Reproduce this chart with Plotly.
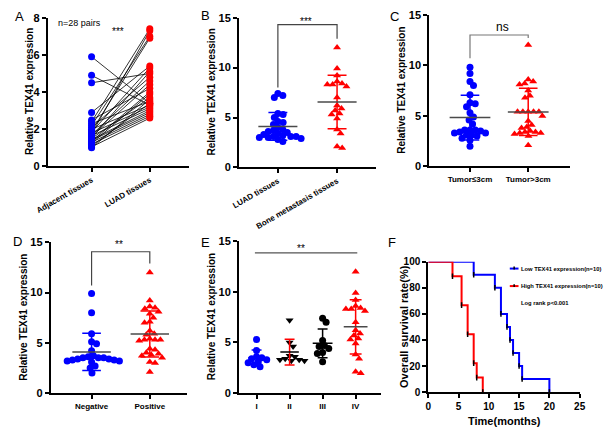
import numpy as np
import plotly.graph_objects as go

W, H = 607, 436
FONT = "Liberation Sans, Arial, sans-serif"
BLUE = "#0000FF"
RED = "#FF0000"
BLACK = "#000000"
MEANC = "#4a4a4a"

# ---------------- data ----------------
a_categories = ["Adjacent tissues", "LUAD tissues"]
a_adjacent = [5.9, 4.9, 4.5, 2.9, 2.5, 2.4, 2.3, 2.2, 2.1, 2.0, 1.9, 1.85, 1.8, 1.75,
              1.7, 1.65, 1.6, 1.55, 1.5, 1.45, 1.4, 1.35, 1.3, 1.25, 1.2, 1.1, 1.05, 1.0]
a_luad = [3.4, 3.3, 5.0, 5.4, 4.2, 7.4, 3.5, 7.0, 4.8, 3.3, 6.9, 5.3, 3.2, 7.3,
          4.6, 3.1, 4.4, 5.1, 3.7, 3.0, 2.9, 4.0, 2.8, 3.9, 2.7, 3.4, 2.6, 3.6]

b_categories = ["LUAD tissues", "Bone metastasis tissues"]
b_luad = [7.4, 7.2, 7.0, 5.4, 5.3, 5.0, 4.6, 4.5, 4.3, 4.0, 3.8, 3.7, 3.6, 3.5, 3.4,
          3.3, 3.2, 3.1, 3.1, 3.1, 3.0, 3.0, 2.9, 2.8, 2.6]
b_bone = [12.0, 9.9, 9.2, 8.6, 8.4, 8.3, 8.3, 8.1, 7.0, 6.2, 5.9, 5.7, 5.4, 5.3,
          4.9, 3.8, 3.4, 2.1, 1.95]

c_categories = ["Tumor≤3cm", "Tumor>3cm"]
c_small = [9.8, 9.2, 8.4, 8.0, 7.1, 6.3, 6.2, 5.9, 5.3, 4.9, 4.6, 4.2, 3.6, 3.6, 3.6,
           3.5, 3.4, 3.3, 3.3, 3.1, 3.1, 3.0, 2.8, 2.6, 2.0]
c_large = [12.0, 8.6, 8.4, 8.2, 8.1, 7.5, 7.0, 6.8, 5.4, 5.4, 5.4, 5.4, 5.4, 5.0,
           4.5, 4.1, 3.9, 3.8, 3.4, 3.4, 3.3, 3.3, 3.2, 3.5, 3.0, 2.1]

d_categories = ["Negative", "Positive"]
d_negative = [9.9, 8.0, 5.9, 5.1, 4.9, 4.2, 3.7, 3.6, 3.5, 3.5, 3.5, 3.4, 3.4, 3.3,
              3.3, 3.2, 3.2, 3.1, 2.7, 2.5, 2.0]
d_positive = [12.0, 9.2, 8.6, 8.5, 8.4, 8.1, 7.9, 7.5, 7.1, 7.0, 6.2, 5.9, 5.8, 5.4,
              5.3, 5.3, 5.3, 5.2, 4.4, 4.3, 4.0, 3.9, 3.8, 3.7, 3.5, 3.1, 3.0, 2.1]

e_categories = ["I", "II", "III", "IV"]
e_stage1 = [5.3, 4.2, 3.6, 3.5, 3.4, 3.3, 3.1, 3.0, 2.8, 2.6]
e_stage2 = [7.2, 5.0, 4.6, 3.7, 3.6, 3.4, 3.3, 3.3, 3.2, 3.2]
e_stage3 = [7.4, 7.0, 5.2, 4.7, 4.6, 4.4, 4.0, 3.9, 3.1]
e_stage4 = [12.0, 9.9, 9.2, 8.6, 8.4, 8.3, 8.3, 8.1, 7.0, 6.2, 5.9, 5.7, 5.4, 5.3,
            4.9, 3.8, 3.4, 2.1, 1.95]

f_low_time = [0, 7.5, 11, 12, 13, 13.5, 14, 15, 15.5, 20]
f_low_surv = [100, 90, 80, 60, 50, 40, 30, 20, 10, 0]
f_high_time = [0, 4, 5.5, 6.5, 7.5, 8, 9]
f_high_surv = [100, 88.9, 66.7, 44.4, 22.2, 11.1, 0]
f_legend = ["Low TEX41 expression(n=10)", "High TEX41 expression(n=10)"]
f_note = "Log rank p<0.001"

# ---------------- layout helpers ----------------
def px_x(px):
    return px / W

def px_y(py):
    return 1 - py / H

panels = [
    dict(xd=(37, 182), yd=(12, 165), xr=(-0.75, 1.667), yr=(0, 8), dt=2,
         tv=[0, 1], tt=a_categories, ang=-30),
    dict(xd=(234, 375), yd=(12, 166), xr=(-0.656, 1.656), yr=(0, 15), dt=5,
         tv=[0, 1], tt=b_categories, ang=-30),
    dict(xd=(430, 575), yd=(9, 165), xr=(-0.7, 1.717), yr=(0, 15), dt=5,
         tv=[0, 1], tt=c_categories, ang=0),
    dict(xd=(40, 180), yd=(243, 398), xr=(-0.7, 1.633), yr=(0, 15), dt=5,
         tv=[0, 1], tt=d_categories, ang=0),
    dict(xd=(234, 380), yd=(242, 398), xr=(-0.53, 3.76), yr=(0, 15), dt=5,
         tv=[0, 1, 2, 3], tt=e_categories, ang=0),
    dict(xd=(429, 585), yd=(263, 397), xr=(0, 25), yr=(0, 100), dt=20,
         tv=None, tt=None, ang=0),
]

fig = go.Figure()
layout = {}
for i, p in enumerate(panels, start=1):
    xn = "xaxis" if i == 1 else f"xaxis{i}"
    yn = "yaxis" if i == 1 else f"yaxis{i}"
    xid = "x" if i == 1 else f"x{i}"
    yid = "y" if i == 1 else f"y{i}"
    p["xid"], p["yid"] = xid, yid
    p["ppx"] = (p["xd"][1] - p["xd"][0]) / (p["xr"][1] - p["xr"][0])
    p["ppy"] = (p["yd"][1] - p["yd"][0]) / (p["yr"][1] - p["yr"][0])
    xa = dict(domain=[px_x(p["xd"][0]), px_x(p["xd"][1])], range=list(p["xr"]),
              anchor=yid, showline=True, linecolor=BLACK, linewidth=2,
              ticks="outside", ticklen=4, tickwidth=2, tickcolor=BLACK,
              showgrid=False, zeroline=False,
              tickfont=dict(family=FONT, size=8, color=BLACK, weight="bold"))
    if p["tv"] is not None:
        xa.update(tickmode="array", tickvals=p["tv"], ticktext=p["tt"], tickangle=p["ang"])
    else:
        xa.update(tickmode="linear", tick0=0, dtick=5,
                  tickfont=dict(family=FONT, size=10, color=BLACK, weight="bold"))
    ya = dict(domain=[px_y(p["yd"][1]), px_y(p["yd"][0])], range=list(p["yr"]),
              anchor=xid, showline=True, linecolor=BLACK, linewidth=2,
              ticks="outside", ticklen=4, tickwidth=2, tickcolor=BLACK,
              showgrid=False, zeroline=False, tickmode="linear", tick0=0, dtick=p["dt"],
              tickfont=dict(family=FONT, size=11 if i < 6 else 10, color=BLACK, weight="bold"))
    layout[xn] = xa
    layout[yn] = ya


def swarm_offsets(vals, ppu_y, ppu_x, d=5.5):
    v = np.asarray(vals, float)
    order = np.argsort(-v, kind="stable")
    placed = []
    off = np.zeros(len(v))
    for i in order:
        y = v[i] * ppu_y
        forb = []
        for py, px in placed:
            dy = abs(py - y)
            if dy < d:
                w = np.sqrt(d * d - dy * dy)
                forb.append((px - w, px + w))
        cands = [0.0] + [a for a, b in forb] + [b for a, b in forb]
        cands.sort(key=lambda c: (round(abs(c), 6), -c))
        chosen = 0.0
        for c in cands:
            if all(not (a + 1e-6 < c < b - 1e-6) for a, b in forb):
                chosen = c
                break
        off[i] = chosen
        placed.append((y, chosen))
    return off / ppu_x


def add_group(p, xc, vals, color, symbol, mean_color, bar_color, half=0.33, cap=0.16):
    offs = swarm_offsets(vals, p["ppy"], p["ppx"])
    fig.add_trace(go.Scatter(x=xc + offs, y=vals, mode="markers",
                             marker=dict(color=color, size=7, symbol=symbol, line=dict(width=0)),
                             xaxis=p["xid"], yaxis=p["yid"], showlegend=False, hoverinfo="skip"))
    m = float(np.mean(vals))
    s = float(np.std(vals, ddof=1))
    fig.add_trace(go.Scatter(x=[xc, xc, None, xc - cap, xc + cap, None, xc - cap, xc + cap],
                             y=[m - s, m + s, None, m - s, m - s, None, m + s, m + s],
                             mode="lines", line=dict(color=bar_color, width=1.5),
                             xaxis=p["xid"], yaxis=p["yid"], showlegend=False, hoverinfo="skip"))
    fig.add_trace(go.Scatter(x=[xc - half, xc + half], y=[m, m], mode="lines",
                             line=dict(color=mean_color, width=1.5),
                             xaxis=p["xid"], yaxis=p["yid"], showlegend=False, hoverinfo="skip"))


def add_bracket(p, x0, x1, y_left, y_top, y_right, color="#444444"):
    fig.add_trace(go.Scatter(x=[x0, x0, x1, x1], y=[y_left, y_top, y_top, y_right],
                             mode="lines", line=dict(color=color, width=1.2),
                             xaxis=p["xid"], yaxis=p["yid"], showlegend=False, hoverinfo="skip"))


# ---------------- Panel A ----------------
pA = panels[0]
lx, ly = [], []
for a, b in zip(a_adjacent, a_luad):
    lx += [0, 1, None]
    ly += [a, b, None]
fig.add_trace(go.Scatter(x=lx, y=ly, mode="lines", line=dict(color=BLACK, width=0.8),
                         xaxis=pA["xid"], yaxis=pA["yid"], showlegend=False, hoverinfo="skip"))
fig.add_trace(go.Scatter(x=[0] * len(a_adjacent), y=a_adjacent, mode="markers",
                         marker=dict(color=BLUE, size=7), xaxis=pA["xid"], yaxis=pA["yid"],
                         showlegend=False, hoverinfo="skip"))
fig.add_trace(go.Scatter(x=[1] * len(a_luad), y=a_luad, mode="markers",
                         marker=dict(color=RED, size=7), xaxis=pA["xid"], yaxis=pA["yid"],
                         showlegend=False, hoverinfo="skip"))

# ---------------- Panel B ----------------
pB = panels[1]
add_bracket(pB, 0, 1, 8.0, 14.3, 12.9)
add_group(pB, 0, b_luad, BLUE, "circle", MEANC, BLUE)
add_group(pB, 1, b_bone, RED, "triangle-up", MEANC, RED)

# ---------------- Panel C ----------------
pC = panels[2]
add_bracket(pC, 0, 1, 10.7, 13.0, 12.7, color="#777777")
add_group(pC, 0, c_small, BLUE, "circle", MEANC, BLUE, half=0.35)
add_group(pC, 1, c_large, RED, "triangle-up", MEANC, RED, half=0.35)

# ---------------- Panel D ----------------
pD = panels[3]
add_bracket(pD, 0, 1, 10.7, 14.06, 12.9)
add_group(pD, 0, d_negative, BLUE, "circle", MEANC, BLUE)
add_group(pD, 1, d_positive, RED, "triangle-up", MEANC, RED)

# ---------------- Panel E ----------------
pE = panels[4]
fig.add_trace(go.Scatter(x=[-0.05, 3.05], y=[13.85, 13.85], mode="lines",
                         line=dict(color="#555555", width=1.2), xaxis=pE["xid"], yaxis=pE["yid"],
                         showlegend=False, hoverinfo="skip"))
add_group(pE, 0, e_stage1, BLUE, "circle", BLUE, BLUE, half=0.25, cap=0.15)
add_group(pE, 1, e_stage2, BLACK, "triangle-down", BLACK, RED, half=0.28, cap=0.15)
add_group(pE, 2, e_stage3, BLACK, "circle", BLACK, BLACK, half=0.3, cap=0.15)
add_group(pE, 3, e_stage4, RED, "triangle-up", MEANC, RED, half=0.36, cap=0.18)

# ---------------- Panel F ----------------
pF = panels[5]
for t, s, col in [(f_low_time, f_low_surv, BLUE), (f_high_time, f_high_surv, RED)]:
    fig.add_trace(go.Scatter(x=t, y=s, mode="lines", line=dict(color=col, width=2, shape="hv"),
                             xaxis=pF["xid"], yaxis=pF["yid"], showlegend=False, hoverinfo="skip"))
    fig.add_trace(go.Scatter(x=t[1:], y=s[1:], mode="markers",
                             marker=dict(symbol="line-ns", size=4, line=dict(color=BLACK, width=1.5)),
                             xaxis=pF["xid"], yaxis=pF["yid"], showlegend=False, hoverinfo="skip"))

# ---------------- annotations ----------------
ann = []

def text(x, y, s, size, bold=False, angle=0, xanchor="center", color=BLACK, family=FONT):
    ann.append(dict(x=px_x(x), y=px_y(y), xref="paper", yref="paper", text=s, showarrow=False,
                    textangle=angle, xanchor=xanchor, yanchor="middle", borderpad=0,
                    font=dict(family=family, size=size, color=color, weight="bold" if bold else "normal")))

for letter, x, y in [("A", 8, 11), ("B", 199, 10), ("C", 394, 11),
                     ("D", 6, 242), ("E", 199, 243), ("F", 392, 243)]:
    text(x, y, letter, 13)

ytitle = "Relative TEX41 expression"
for x, y in [(18, 88), (206, 88), (401, 87), (12, 320), (205, 319)]:
    text(x, y, ytitle, 10, bold=True, angle=-90)
text(404, 330, "Overall survival rate(%)", 11, bold=True, angle=-90)
text(508, 427, "Time(months)", 11, bold=True)

text(46, 17, "n=28 pairs", 9, xanchor="left")
text(109, 26, "***", 10)
text(303, 16, "***", 10)
text(505, 22, "ns", 12)
text(110, 245, "**", 10)
text(298, 249, "**", 10)

# legend of panel F
shapes = []
for yy, col, lab in [(270, BLUE, f_legend[0]), (288, RED, f_legend[1])]:
    shapes.append(dict(type="line", xref="paper", yref="paper", x0=px_x(513), x1=px_x(522),
                       y0=px_y(yy), y1=px_y(yy), line=dict(color=col, width=2)))
    shapes.append(dict(type="line", xref="paper", yref="paper", x0=px_x(517.5), x1=px_x(517.5),
                       y0=px_y(yy - 2), y1=px_y(yy + 1), line=dict(color=BLACK, width=1.5)))
    text(524, yy, lab, 5.8, bold=True, xanchor="left")
text(524, 305, f_note, 5.8, bold=True, xanchor="left")

layout.update(dict(width=W, height=H, margin=dict(l=0, r=0, t=0, b=0),
                   paper_bgcolor="white", plot_bgcolor="white",
                   annotations=ann, shapes=shapes, showlegend=False,
                   font=dict(family=FONT, color=BLACK)))
fig.update_layout(**layout)
fig.write_html("out.html", config={"displayModeBar": False},
               post_script="document.body.style.margin='0';document.body.style.padding='0';")
